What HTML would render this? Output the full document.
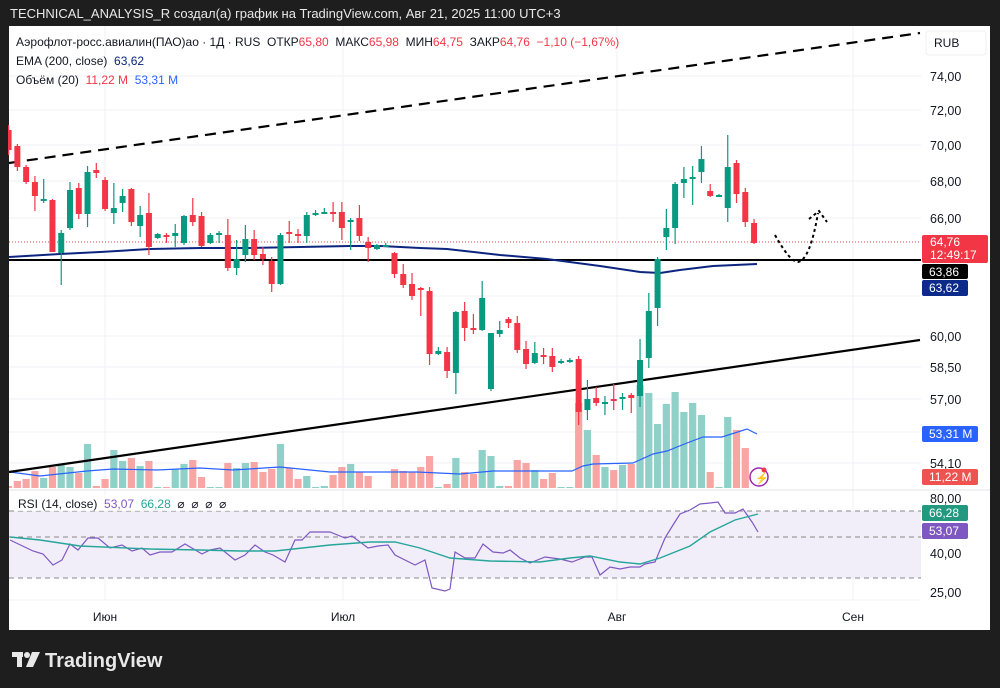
<!DOCTYPE html>
<html><head><meta charset="utf-8">
<style>
html,body{margin:0;padding:0;background:#1e1e1e;width:1000px;height:688px;overflow:hidden;font-family:"Liberation Sans",sans-serif}
svg text{font-family:"Liberation Sans",sans-serif;white-space:pre}
</style></head><body>
<svg id="s" width="1000" height="688" xmlns="http://www.w3.org/2000/svg" xml:space="preserve">
<rect x="0" y="0" width="1000" height="688" fill="#1e1e1e"/>
<text x="10" y="18" fill="#e8e8e8" font-size="13">TECHNICAL_ANALYSIS_R создал(а) график на TradingView.com, Авг 21, 2025 11:00 UTC+3</text>
<rect x="9" y="26" width="981" height="604" fill="#ffffff"/>
<g stroke="#f0f2f6" stroke-width="1">
<line x1="9" x2="921" y1="76" y2="76"/><line x1="9" x2="921" y1="110" y2="110"/><line x1="9" x2="921" y1="145" y2="145"/><line x1="9" x2="921" y1="181" y2="181"/><line x1="9" x2="921" y1="218" y2="218"/><line x1="9" x2="921" y1="296" y2="296"/><line x1="9" x2="921" y1="336" y2="336"/><line x1="9" x2="921" y1="367" y2="367"/><line x1="9" x2="921" y1="399" y2="399"/><line x1="9" x2="921" y1="432" y2="432"/><line x1="9" x2="921" y1="463" y2="463"/>
<line x1="105" x2="105" y1="26" y2="600"/><line x1="343" x2="343" y1="26" y2="600"/><line x1="617" x2="617" y1="26" y2="600"/><line x1="853" x2="853" y1="26" y2="600"/>
<line x1="9" x2="921" y1="600" y2="600"/>
</g>
<line x1="9" x2="990" y1="490" y2="490" stroke="#e0e3eb"/>
<rect x="9" y="511" width="912" height="67" fill="#f1eef9"/>
<g stroke="#888" stroke-dasharray="5,4" stroke-width="1">
<line x1="9" x2="921" y1="511" y2="511"/><line x1="9" x2="921" y1="537" y2="537"/><line x1="9" x2="921" y1="578" y2="578"/>
</g>
<g id="vol"></g>
<polyline id="vma" fill="none" stroke="#2962ff" stroke-width="1.2"/>
<line x1="9" y1="163" x2="920" y2="33" stroke="#000" stroke-width="2.2" stroke-dasharray="11,7"/>
<line x1="9" y1="472" x2="920" y2="340" stroke="#000" stroke-width="2.2"/>
<line x1="9" y1="260" x2="921" y2="260" stroke="#000" stroke-width="2"/>
<line x1="9" y1="242" x2="921" y2="242" stroke="#e05050" stroke-width="1" stroke-dasharray="1,2"/>
<polyline id="ema" fill="none" stroke="#0c2580" stroke-width="2"/>
<g id="cdl"></g>
<path d="M775 235 Q790 262 798 262 Q810 260 818 213" fill="none" stroke="#000" stroke-width="2" stroke-dasharray="3,3"/>
<path d="M809 219 L819 211 L827 222" fill="none" stroke="#000" stroke-width="2" stroke-dasharray="3,3"/>
<polyline id="rsi" fill="none" stroke="#7e57c2" stroke-width="1.2"/>
<polyline id="rsim" fill="none" stroke="#26a69a" stroke-width="1.4"/>
<circle cx="759" cy="477" r="9" fill="#fff" stroke="#9c27b0" stroke-width="1.5"/>
<text x="755" y="482" font-size="11" fill="#9c27b0">⚡</text>
<circle cx="764" cy="470" r="2.5" fill="#f23645"/>
<text x="16" y="46" font-size="12" fill="#131722">Аэрофлот-росс.авиалин(ПАО)ао · 1Д · RUS  ОТКР<tspan fill="#f23645">65,80</tspan>  МАКС<tspan fill="#f23645">65,98</tspan>  МИН<tspan fill="#f23645">64,75</tspan>  ЗАКР<tspan fill="#f23645">64,76  −1,10 (−1,67%)</tspan></text>
<text x="16" y="65" font-size="12" fill="#131722">EMA (200, close)  <tspan fill="#0c2580">63,62</tspan></text>
<text x="16" y="84" font-size="12" fill="#131722">Объём (20)  <tspan fill="#f23645">11,22 M</tspan>  <tspan fill="#2962ff">53,31 M</tspan></text>
<rect x="14" y="495" width="230" height="16" fill="#fff" opacity="0.7"/>
<text x="18" y="508" font-size="12" fill="#131722">RSI (14, close)  <tspan fill="#7e57c2">53,07</tspan>  <tspan fill="#26a69a">66,28</tspan>  ⌀  ⌀  ⌀  ⌀</text>
<rect x="926" y="31" width="60" height="24" rx="3" fill="#fff" stroke="#f0f0f0"/>
<text x="934" y="47" font-size="12" fill="#131722">RUB</text>
<g font-size="12.5" fill="#131722">
<text x="930" y="81">74,00</text><text x="930" y="115">72,00</text><text x="930" y="150">70,00</text><text x="930" y="186">68,00</text><text x="930" y="223">66,00</text>
<text x="930" y="341">60,00</text><text x="930" y="372">58,50</text><text x="930" y="404">57,00</text><text x="930" y="468">54,10</text>
<text x="930" y="503">80,00</text><text x="930" y="558">40,00</text><text x="930" y="597">25,00</text>
</g>
<rect x="922" y="235" width="66" height="28" rx="2" fill="#f23645"/>
<text x="930" y="246" font-size="12" fill="#fff">64,76</text><text x="930" y="259" font-size="12" fill="#fff">12:49:17</text>
<rect x="922" y="264" width="46" height="15" rx="2" fill="#000"/><text x="929" y="276" font-size="12" fill="#fff">63,86</text>
<rect x="922" y="280" width="46" height="16" rx="2" fill="#0c2a8a"/><text x="929" y="292" font-size="12" fill="#fff">63,62</text>
<rect x="922" y="426" width="56" height="16" rx="2" fill="#2962ff"/><text x="929" y="438" font-size="12" fill="#fff">53,31 M</text>
<rect x="922" y="469" width="56" height="16" rx="2" fill="#ef5350"/><text x="929" y="481" font-size="12" fill="#fff">11,22 M</text>
<rect x="922" y="505" width="46" height="16" rx="2" fill="#22997f"/><text x="929" y="517" font-size="12" fill="#fff">66,28</text>
<rect x="922" y="523" width="46" height="16" rx="2" fill="#7e57c2"/><text x="929" y="535" font-size="12" fill="#fff">53,07</text>
<g font-size="12" fill="#131722" text-anchor="middle">
<text x="105" y="621">Июн</text><text x="343" y="621">Июл</text><text x="617" y="621">Авг</text><text x="853" y="621">Сен</text>
</g>
<g fill="#e8e8e8"><rect x="12" y="652" width="11" height="5"/><rect x="17" y="652" width="5" height="15"/><circle cx="27" cy="655" r="3"/><path d="M32 652 L40 652 L33 667 L26 667 Z"/></g>
<text x="45" y="667" font-size="20" font-weight="bold" fill="#e8e8e8">TradingView</text>
</svg>
<script>
(function(){
var C=[[130,150,125,155],[146,167,144,171],[167,182,165,184],[182,196,176,211],[200,199,179,203],[200,252,199,252],[253,233,230,285],[228,190,182,230],[188,214,183,219],[214,172,166,227],[170,173,163,178],[180,209,177,211],[213,208,183,224],[203,196,189,212],[189,222,188,226],[226,215,206,237],[213,247,193,255],[238,234,233,239],[235,237,233,243],[236,233,224,247],[243,216,215,245],[215,222,198,226],[216,246,212,247],[243,235,233,244],[234,233,231,243],[235,268,219,271],[268,259,240,275],[255,239,225,262],[239,255,230,260],[254,259,247,265],[261,284,257,292],[284,235,233,285],[232,233,221,243],[234,236,229,243],[236,215,212,243],[214,213,210,216],[213,212,208,214],[212,213,202,222],[212,228,202,240],[222,220,218,250],[218,236,205,241],[242,248,237,262],[249,245,244,250],[246,245,243,247],[253,274,252,278],[274,285,264,288],[284,296,273,300],[288,290,287,316],[291,354,287,365],[354,351,347,355],[352,371,347,378],[373,312,311,394],[311,328,302,341],[328,330,314,334],[330,298,281,331],[389,333,333,391],[334,330,321,337],[319,323,317,328],[323,350,316,353],[349,364,341,369],[363,353,342,364],[355,356,348,364],[356,367,348,372],[362,361,359,364],[361,360,358,363],[359,412,356,425],[410,399,380,420],[398,403,387,406],[403,402,396,415],[399,401,384,410],[398,397,393,410],[395,398,393,413],[396,360,339,407],[358,311,293,368],[308,259,257,326],[237,228,209,250],[228,184,182,244],[183,179,167,198],[178,177,166,205],[172,159,146,183],[191,196,184,197],[196,195,194,197],[208,167,135,222],[163,194,160,203],[192,222,188,227],[223,243,219,244]];
var V=[486,481,479,471,478,467,465,467,473,444,486,479,450,461,458,466,461,487,487,469,464,460,477,487,487,463,468,463,462,472,469,444,468,479,476,487,486,475,467,464,472,476,488,488,469,471,472,467,456,487,484,458,472,474,450,456,486,486,460,463,470,479,473,487,487,403,430,455,467,470,465,464,385,393,424,404,392,412,403,415,472,487,417,430,448,488];
var ns="http://www.w3.org/2000/svg",cd=document.getElementById('cdl'),vg=document.getElementById('vol');
function el(t,a,p){var e=document.createElementNS(ns,t);for(var k in a)e.setAttribute(k,a[k]);p.appendChild(e);return e;}
for(var i=0;i<C.length;i++){var x=8.6+8.77*i,c=C[i],up=c[1]<=c[0];var col=up?'#089981':'#f23645';
var bt=Math.min(c[0],c[1]),bb=Math.max(c[0],c[1]);if(bb-bt<2){bb=bt+2;}
var bx=Math.max(9,x-3),bw=(x+3)-bx;
el('line',{x1:x,x2:x,y1:c[2],y2:c[3],stroke:col,'stroke-width':1.2},cd);
el('rect',{x:bx,y:bt,width:bw,height:bb-bt,fill:col},cd);
if(V[i]<488){var vx=Math.max(9,x-3.6);el('rect',{x:vx,y:V[i],width:(x+3.6)-vx,height:488-V[i],fill:up?'#8fd0c8':'#f7a6a4'},vg);}}
document.getElementById('vma').setAttribute('points',"10,472 40,476 87,471 113,469 157,470 200,468 233,470 280,467 330,472 367,472 417,472 460,474 493,471 572,471 583,466 593,464 633,463 653,454 667,451 687,443 703,437 722,437 747,429 757,434");
document.getElementById('ema').setAttribute('points',"9,257 60,254 100,252 150,249 200,248 250,248 300,247 350,246 380,246 420,248 447,249 500,255 547,259 600,266 640,272 660,273 680,270 713,266 757,264");
document.getElementById('rsi').setAttribute('points',"10,540 33,551 43,554 53,565 62,560 70,544 78,550 88,538 98,538 110,548 122,545 132,551 142,548 150,555 160,552 172,552 185,544 202,554 210,550 220,548 235,560 245,555 255,545 265,552 273,555 285,562 295,540 302,540 310,532 330,532 345,538 352,536 368,548 378,546 388,545 395,555 415,565 425,560 432,588 445,591 450,589 455,552 465,558 475,558 483,544 493,552 503,553 510,550 520,558 530,563 545,557 560,559 572,562 585,557 592,557 600,575 610,567 620,569 630,567 640,567 645,564 655,562 665,538 673,525 680,514 690,510 700,504 710,503 718,502 725,513 735,513 743,509 752,522 758,532");
document.getElementById('rsim').setAttribute('points',"10,537 40,540 80,546 150,549 200,550 240,551 275,551 330,545 370,542 395,542 420,548 450,558 490,561 540,562 570,558 590,556 620,562 640,564 660,558 690,546 710,532 735,520 758,514");
})();
</script>
</body></html>
